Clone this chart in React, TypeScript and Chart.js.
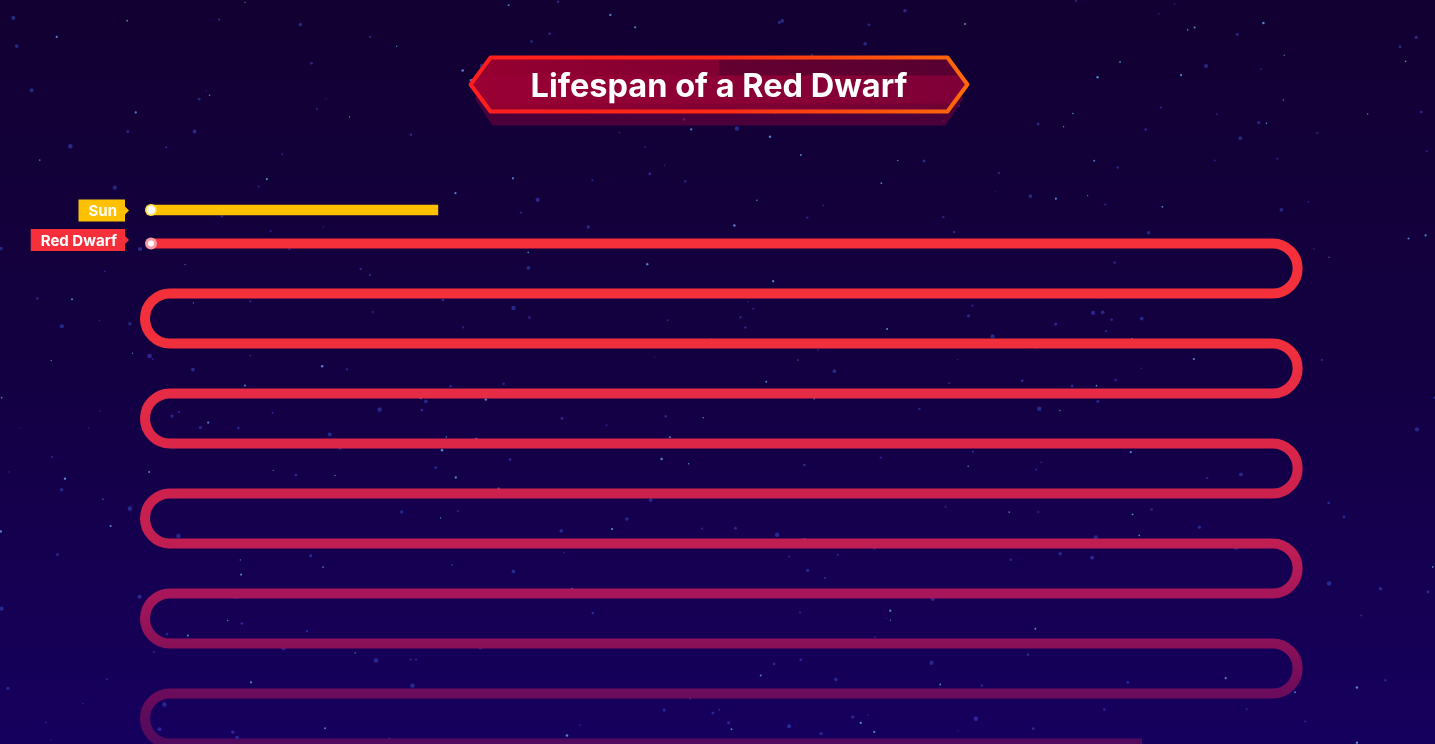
import { useEffect, useRef } from 'react';
import { Chart, registerables } from 'chart.js';

Chart.register(...registerables);

// ---- data ----
const categories = ['Sun', 'Red Dwarf'];
const lifespanBillionYears = [10, 446.3];
const categoryColors = ['#ffc000', '#f5303a'];
const axisMaxBillionYears = 39.6;
const rowSpanBillionYears = 39.1; // length of one straight row
const titleText = 'Lifespan of a Red Dwarf';

// ---- style ----
const LINE_W = 10;
const ROW_GAP = 50;
const LEFT_INSET = 19;
const TITLE_PAD_TOP = 68;
const TITLE_SIZE = 32.5;
const TITLE_LH = 1.2;
const FONT = 'Inter, "Noto Sans", sans-serif';
const TAG_OFFSETS = [0.5, -3.5];

function mulberry32(a: number) {
  return function () {
    a |= 0; a = (a + 0x6d2b79f5) | 0;
    let t = Math.imul(a ^ (a >>> 15), 1 | a);
    t = (t + Math.imul(t ^ (t >>> 7), 61 | t)) ^ t;
    return ((t ^ (t >>> 14)) >>> 0) / 4294967296;
  };
}

const backgroundPlugin = {
  id: 'spaceBackground',
  beforeDraw(chart: any) {
    const { ctx, width, height } = chart;
    ctx.save();
    const g = ctx.createLinearGradient(0, 0, 0, height);
    g.addColorStop(0, '#120032');
    g.addColorStop(0.5, '#130042');
    g.addColorStop(1, '#16005e');
    ctx.fillStyle = g;
    ctx.fillRect(0, 0, width, height);
    // decorative stars (deterministic)
    const rnd = mulberry32(7);
    for (let i = 0; i < 420; i++) {
      const sx = rnd() * width;
      const sy = rnd() * height;
      const kind = rnd();
      const r = kind < 0.6 ? 0.6 + rnd() * 0.7 : 1 + rnd() * 1.3;
      ctx.beginPath();
      ctx.arc(sx, sy, r, 0, Math.PI * 2);
      if (kind < 0.35) ctx.fillStyle = 'rgba(110,170,255,0.75)';
      else if (kind < 0.7) ctx.fillStyle = 'rgba(70,70,210,0.55)';
      else ctx.fillStyle = 'rgba(60,90,220,0.45)';
      ctx.fill();
    }
    // title banner
    const tb = chart.titleBlock;
    const cx = tb ? tb.left + tb.width / 2 : width / 2;
    const cy = 84.5;
    ctx.font = `bold ${TITLE_SIZE}px ${FONT}`;
    const tw = ctx.measureText(titleText).width;
    const L = cx - tw / 2 - 60;
    const R = cx + tw / 2 + 60;
    const top = cy - 27;
    const bot = cy + 27;
    const tip = 20;
    const hex = (dy: number, inset: number) => {
      ctx.beginPath();
      ctx.moveTo(L + inset, cy + dy);
      ctx.lineTo(L + tip + inset * 0.5, top + dy + inset * 0.3);
      ctx.lineTo(R - tip - inset * 0.5, top + dy + inset * 0.3);
      ctx.lineTo(R - inset, cy + dy);
      ctx.lineTo(R - tip - inset * 0.5, bot + dy);
      ctx.lineTo(L + tip + inset * 0.5, bot + dy);
      ctx.closePath();
    };
    // shadow
    hex(14, 4);
    ctx.fillStyle = 'rgba(95,0,60,0.75)';
    ctx.fill();
    // main fill
    hex(0, 0);
    const fg = ctx.createLinearGradient(L, 0, R, 0);
    fg.addColorStop(0, '#960030');
    fg.addColorStop(1, '#6c0035');
    ctx.fillStyle = fg;
    ctx.fill();
    ctx.save();
    hex(0, 0);
    ctx.clip();
    ctx.fillStyle = 'rgba(50,0,45,0.35)';
    ctx.fillRect(cx, top, R - cx, 18);
    ctx.fillStyle = 'rgba(160,0,60,0.35)';
    ctx.fillRect(L, top + 18, R - L, 28);
    ctx.restore();
    hex(0, 0);
    const sg = ctx.createLinearGradient(L, top, R, bot);
    sg.addColorStop(0, '#ff1e1e');
    sg.addColorStop(0.5, '#ff2a16');
    sg.addColorStop(1, '#ff6a0a');
    ctx.strokeStyle = sg;
    ctx.lineWidth = 4;
    ctx.lineJoin = 'round';
    ctx.stroke();
    ctx.restore();
  },
};

const serpentinePlugin = {
  id: 'serpentine',
  afterDatasetsDraw(chart: any) {
    const { ctx } = chart;
    const xs = chart.scales.x;
    const ys = chart.scales.y;
    const startX = xs.getPixelForValue(0);
    ctx.save();

    // red dwarf serpentine
    const idx = 1;
    const totalLen = xs.getPixelForValue(lifespanBillionYears[idx]) - startX;
    const rowY0 = ys.getPixelForValue(idx);
    const rightX = xs.getPixelForValue(rowSpanBillionYears);
    const leftX = startX + LEFT_INSET;
    const r = ROW_GAP / 2;
    ctx.beginPath();
    ctx.moveTo(startX, rowY0);
    let remaining = totalLen;
    let px = startX;
    let py = rowY0;
    let dir = 1;
    while (remaining > 0 && py < chart.height + ROW_GAP) {
      const target = dir > 0 ? rightX : leftX;
      const seg = Math.abs(target - px);
      if (remaining <= seg) {
        ctx.lineTo(px + dir * remaining, py);
        remaining = 0;
        break;
      }
      ctx.lineTo(target, py);
      remaining -= seg;
      px = target;
      const arcLen = Math.PI * r;
      const frac = Math.min(1, remaining / arcLen);
      if (dir > 0) ctx.arc(px, py + r, r, -Math.PI / 2, -Math.PI / 2 + Math.PI * frac, false);
      else ctx.arc(px, py + r, r, -Math.PI / 2, -Math.PI / 2 - Math.PI * frac, true);
      remaining -= arcLen;
      py += 2 * r;
      dir = -dir;
    }
    const grad = ctx.createLinearGradient(0, rowY0, 0, rowY0 + 10 * ROW_GAP);
    const stops = ['#f5303a', '#f4303a', '#f02f3c', '#e62b45', '#db2648', '#cc214d', '#c01e52', '#a8165a', '#8a1158', '#6c0b5c', '#500a5e'];
    stops.forEach((c, k) => grad.addColorStop(k / 10, c));
    ctx.strokeStyle = grad;
    ctx.lineWidth = LINE_W;
    ctx.lineJoin = 'round';
    ctx.lineCap = 'butt';
    ctx.stroke();

    // start dots
    categories.forEach((_, i) => {
      const y = ys.getPixelForValue(i);
      ctx.beginPath();
      ctx.arc(startX, y, 6, 0, Math.PI * 2);
      ctx.fillStyle = i === 0 ? '#ffe04a' : '#f49aa4';
      ctx.fill();
      ctx.beginPath();
      ctx.arc(startX, y, i === 0 ? 4.2 : 3, 0, Math.PI * 2);
      ctx.fillStyle = '#ffffff';
      ctx.fill();
    });

    // category tags
    ctx.font = `bold 15px ${FONT}`;
    ctx.textBaseline = 'middle';
    ctx.textAlign = 'right';
    categories.forEach((label, i) => {
      const y = ys.getPixelForValue(i) + TAG_OFFSETS[i];
      const right = startX - 26;
      const textRight = right - 8;
      const w = ctx.measureText(label).width;
      const left = textRight - w - 10;
      const h = 22;
      ctx.beginPath();
      ctx.moveTo(left, y - h / 2);
      ctx.lineTo(right, y - h / 2);
      ctx.lineTo(right, y - 4);
      ctx.lineTo(right + 4, y);
      ctx.lineTo(right, y + 4);
      ctx.lineTo(right, y + h / 2);
      ctx.lineTo(left, y + h / 2);
      ctx.closePath();
      ctx.fillStyle = categoryColors[i];
      ctx.fill();
      ctx.fillStyle = '#ffffff';
      ctx.fillText(label, textRight, y + 1);
    });
    ctx.restore();
  },
};

export default function App() {
  const ref = useRef<HTMLCanvasElement | null>(null);
  useEffect(() => {
    if (!ref.current) return;
    const titleBlockH = 193.25;
    const chart = new Chart(ref.current, {
      type: 'bar',
      data: {
        labels: categories,
        datasets: [
          {
            data: lifespanBillionYears,
            backgroundColor: [categoryColors[0], 'rgba(0,0,0,0)'],
            barThickness: LINE_W,
            borderWidth: 0,
          },
        ],
      },
      options: {
        indexAxis: 'y',
        animation: false,
        responsive: true,
        maintainAspectRatio: false,
        layout: { padding: { left: 151, right: 148, top: 0, bottom: 483.75 } },
        scales: {
          x: { type: 'linear', min: 0, max: axisMaxBillionYears, display: false },
          y: { type: 'category', display: false },
        },
        plugins: {
          legend: { display: false },
          tooltip: { enabled: false },
          title: {
            display: true,
            text: titleText,
            color: '#ffffff',
            font: { family: FONT, size: TITLE_SIZE, weight: 'bold', lineHeight: TITLE_LH },
            padding: {
              top: TITLE_PAD_TOP,
              bottom: titleBlockH - TITLE_PAD_TOP - TITLE_SIZE * TITLE_LH,
            },
          },
        },
      },
      plugins: [backgroundPlugin, serpentinePlugin],
    });
    return () => chart.destroy();
  }, []);
  return (
    <div style={{ position: 'fixed', left: 0, top: 0, width: '100vw', height: '100vh' }}>
      <canvas ref={ref} />
    </div>
  );
}
